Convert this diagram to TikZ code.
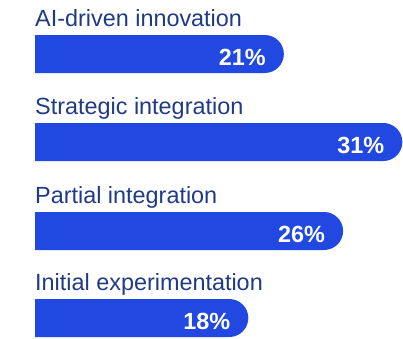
\documentclass[tikz,border=0pt]{standalone}
\usepackage{fontspec}
\setmainfont{Liberation Sans}
\definecolor{barblue}{RGB}{33,73,226}
\definecolor{labelnavy}{RGB}{31,58,135}

\tikzset{
  barlabel/.style={anchor=base west,inner sep=0pt,text=labelnavy,
    font=\fontsize{23.4}{28}\selectfont},
  barvalue/.style={anchor=base east,inner sep=0pt,text=white,
    font=\fontsize{23.4}{28}\selectfont\bfseries},
  barfill/.style={fill=barblue}
}

\begin{document}
\begin{tikzpicture}[x=1pt,y=-1pt]
  \useasboundingbox (0,0) rectangle (403,338);

  % one bar per row: name / label / percent / top edge
  \foreach \name/\lbl/\pct/\top in {ai/AI-driven innovation/21/35,
                                   si/Strategic integration/31/123,
                                   pi/Partial integration/26/212,
                                   ie/Initial experimentation/18/299}
  {
    \pgfmathsetmacro{\len}{11.85*\pct}
    \fill[barfill] (35,\top) -- ({35+\len-19},\top)
         arc[start angle=-90,end angle=90,radius=19]
         -- (35,\top+38) -- cycle;
    \node[barlabel] (\name-lbl) at (35,\top-8.5) {\lbl};
    \node[barvalue] (\name-val) at ({35+\len-18},\top+30) {\pct\%};
  }
\end{tikzpicture}
\end{document}
